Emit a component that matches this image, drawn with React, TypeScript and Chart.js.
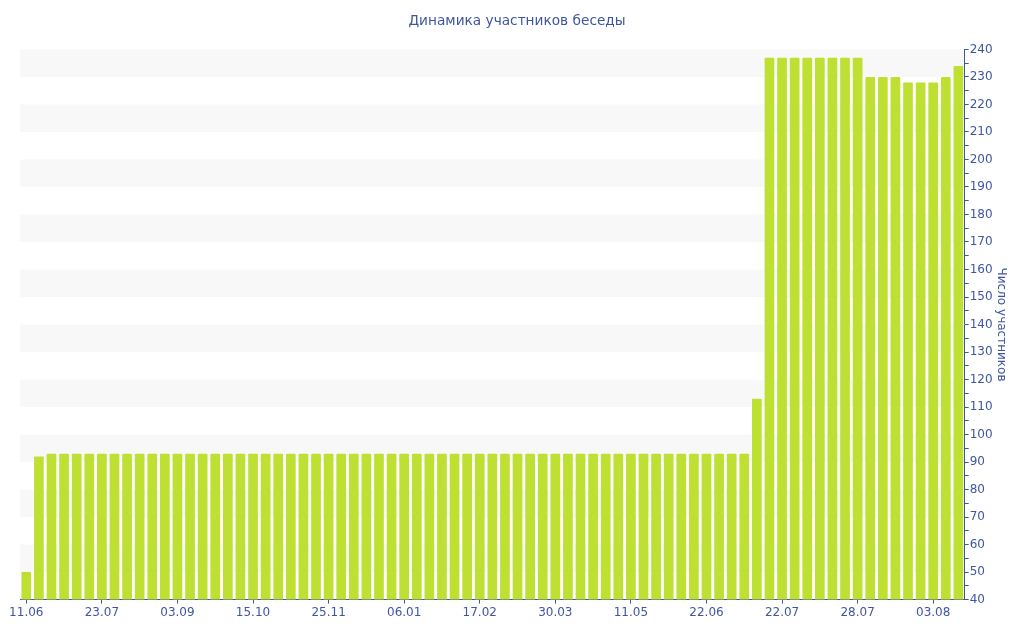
import { useEffect, useRef } from 'react';
import { Chart, registerables } from 'chart.js';

Chart.register(...registerables);

const dates = [
  '11.06', '18.06', '25.06', '02.07', '09.07', '16.07',
  '23.07', '30.07', '06.08', '13.08', '20.08', '27.08',
  '03.09', '10.09', '17.09', '24.09', '01.10', '08.10',
  '15.10', '22.10', '29.10', '05.11', '12.11', '19.11',
  '25.11', '02.12', '09.12', '16.12', '23.12', '30.12',
  '06.01', '13.01', '20.01', '27.01', '03.02', '10.02',
  '17.02', '24.02', '02.03', '09.03', '16.03', '23.03',
  '30.03', '06.04', '13.04', '20.04', '27.04', '04.05',
  '11.05', '18.05', '25.05', '01.06', '08.06', '15.06',
  '22.06', '29.06', '06.07', '13.07', '20.07', '21.07',
  '22.07', '23.07', '24.07', '25.07', '26.07', '27.07',
  '28.07', '29.07', '30.07', '31.07', '01.08', '02.08',
  '03.08', '04.08', '05.08',
];

const members = [
  50, 92, 93, 93, 93, 93,
  93, 93, 93, 93, 93, 93,
  93, 93, 93, 93, 93, 93,
  93, 93, 93, 93, 93, 93,
  93, 93, 93, 93, 93, 93,
  93, 93, 93, 93, 93, 93,
  93, 93, 93, 93, 93, 93,
  93, 93, 93, 93, 93, 93,
  93, 93, 93, 93, 93, 93,
  93, 93, 93, 93, 113, 237,
  237, 237, 237, 237, 237, 237,
  237, 230, 230, 230, 228, 228,
  228, 230, 234,
];

const yMin = 40;
const yMax = 240;

const BLUE = '#3f55a0';
const FONT = '"DejaVu Sans", Verdana, sans-serif';

// серые полосы фона через одну
const bandsPlugin = {
  id: 'bands',
  beforeDraw(chart: any) {
    const { ctx, chartArea, scales } = chart;
    const y = scales.y;
    ctx.save();
    ctx.fillStyle = '#f8f8f8';
    for (let v = yMin + 10; v < yMax; v += 20) {
      const top = y.getPixelForValue(v + 10);
      const bottom = y.getPixelForValue(v);
      ctx.fillRect(chartArea.left, top, chartArea.right - chartArea.left, bottom - top);
    }
    ctx.restore();
  },
};

export default function App() {
  const chartRef = useRef<HTMLCanvasElement>(null);

  useEffect(() => {
    document.body.style.margin = '0';
    if (!chartRef.current) return;

    const chart = new Chart(chartRef.current, {
      type: 'bar',
      data: {
        labels: dates,
        datasets: [{
          label: 'Число участников',
          data: members,
          backgroundColor: '#bde032',
          borderRadius: 1,
          barPercentage: 0.77,
          categoryPercentage: 1,
        }],
      },
      plugins: [bandsPlugin],
      options: {
        animation: false,
        responsive: true,
        maintainAspectRatio: false,
        layout: {
          padding: { left: 20, right: 10, bottom: 18 },
        },
        plugins: {
          legend: { display: false },
          tooltip: { enabled: false },
          title: {
            display: true,
            text: 'Динамика участников беседы',
            color: BLUE,
            font: { family: FONT, size: 13.7, weight: 'normal' },
            padding: { top: 13, bottom: 20 },
          },
        },
        scales: {
          x: {
            grid: {
              display: true,
              drawOnChartArea: false,
              offset: false,
              tickLength: 4,
              tickColor: (ctx: any) => (ctx.index % 6 === 0 ? BLUE : 'rgba(0,0,0,0)'),
            },
            border: { color: BLUE, width: 1 },
            ticks: {
              autoSkip: false,
              maxRotation: 0,
              color: BLUE,
              padding: 2,
              font: { family: FONT, size: 12 },
              callback: (_v: any, i: number) => (i % 6 === 0 ? dates[i] : ''),
            },
          },
          y: {
            position: 'right',
            min: yMin,
            max: yMax,
            grid: {
              display: true,
              drawOnChartArea: false,
              tickLength: 4,
              tickColor: BLUE,
            },
            border: { color: BLUE, width: 1 },
            ticks: {
              stepSize: 5,
              autoSkip: false,
              color: BLUE,
              padding: 1,
              font: { family: FONT, size: 12 },
              callback: (v: any) => (v % 10 === 0 ? String(v) : ''),
            },
            title: {
              display: true,
              text: 'Число участников',
              color: BLUE,
              font: { family: FONT, size: 12 },
              padding: { top: 6, bottom: 0 },
            },
          },
        },
      },
    });

    return () => chart.destroy();
  }, []);

  return (
    <div style={{ width: '1024px', height: '640px', position: 'relative' }}>
      <canvas ref={chartRef} />
    </div>
  );
}
